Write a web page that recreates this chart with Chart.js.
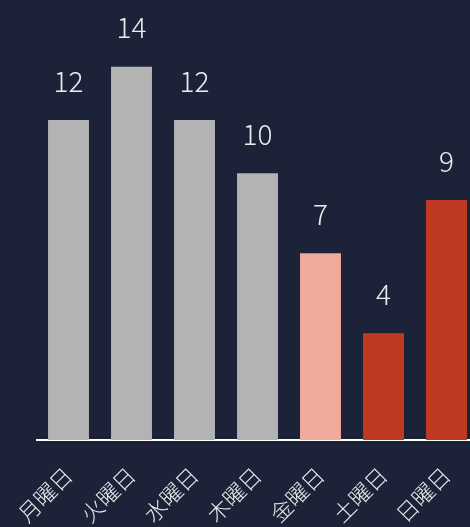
<!DOCTYPE html>
<html>
<head>
<meta charset="utf-8">
<script src="https://cdn.jsdelivr.net/npm/chart.js@4"></script>
<style>
  html, body { margin: 0; padding: 0; background: #1c2339; overflow: hidden; }
  #wrap { width: 480px; height: 527px; }
</style>
</head>
<body>
<div id="wrap"><canvas id="myChart" width="480" height="527"></canvas></div>
<script>
// days of the week and counts per day
var days = ['月曜日', '火曜日', '水曜日', '木曜日', '金曜日', '土曜日', '日曜日'];
var counts = [12, 14, 12, 10, 7, 4, 9];
var barColors = ['#b3b3b3', '#b3b3b3', '#b3b3b3', '#b3b3b3', '#f0aa9c', '#c03a22', '#c03a22'];

var FONT = "'Noto Sans CJK JP', 'Noto Sans', sans-serif";

// writes each value above its bar
var valueLabels = {
    id: 'valueLabels',
    afterDatasetsDraw: function(chart) {
        var ctx = chart.ctx;
        var meta = chart.getDatasetMeta(0);
        ctx.save();
        ctx.fillStyle = '#ececec';
        ctx.font = '300 28px ' + FONT;
        ctx.textAlign = 'center';
        ctx.textBaseline = 'middle';
        meta.data.forEach(function(bar, i) {
            ctx.fillText(String(counts[i]), bar.x, bar.y - 39);
        });
        ctx.restore();
    }
};

var ctx = document.getElementById('myChart').getContext('2d');
var myChart = new Chart(ctx, {
    type: 'bar',
    data: {
        labels: days,
        datasets: [{
            data: counts,
            backgroundColor: barColors,
            borderWidth: 0,
            barPercentage: 0.65,
            categoryPercentage: 1
        }]
    },
    options: {
        responsive: false,
        animation: false,
        layout: { padding: { left: 37, right: 2, top: 0, bottom: 0 } },
        plugins: {
            legend: { display: false },
            tooltip: { enabled: false }
        },
        scales: {
            x: {
                grid: { display: false },
                border: { display: true, color: '#ffffff', width: 2 },
                ticks: {
                    color: '#ececec',
                    font: { size: 22, weight: '300', family: FONT },
                    minRotation: 45,
                    maxRotation: 45,
                    padding: 14
                },
                afterFit: function(scale) { scale.height = 87; }
            },
            y: {
                display: false,
                min: 0,
                max: 16.5
            }
        }
    },
    plugins: [valueLabels]
});
</script>
</body>
</html>
